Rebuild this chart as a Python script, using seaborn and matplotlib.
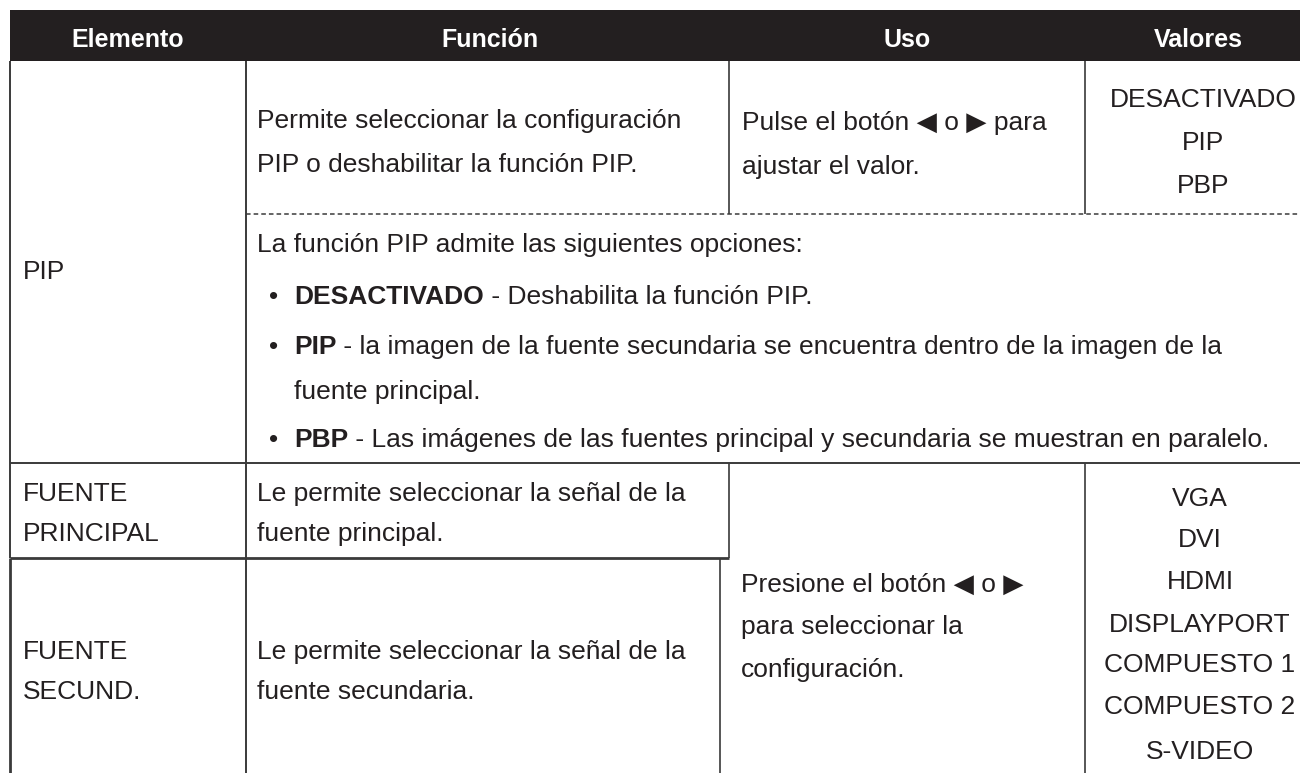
import matplotlib
matplotlib.use("Agg")
import matplotlib.pyplot as plt
import seaborn as sns

# table content
header_labels = ["Elemento", "Función", "Uso", "Valores"]
pip_item = "PIP"
pip_funcion = ["Permite seleccionar la configuración", "PIP o deshabilitar la función PIP."]
pip_uso = ["Pulse el botón ◀ o ▶ para", "ajustar el valor."]
pip_valores = ["DESACTIVADO", "PIP", "PBP"]
pip_intro = "La función PIP admite las siguientes opciones:"
pip_opciones = ["DESACTIVADO", "PIP", "PBP"]
pip_descr = [" - Deshabilita la función PIP.",
             " - la imagen de la fuente secundaria se encuentra dentro de la imagen de la",
             " - Las imágenes de las fuentes principal y secundaria se muestran en paralelo."]
pip_descr_cont = ["", "fuente principal.", ""]
fuente_items = [["FUENTE", "PRINCIPAL"], ["FUENTE", "SECUND."]]
fuente_funcion = [["Le permite seleccionar la señal de la", "fuente principal."],
                  ["Le permite seleccionar la señal de la", "fuente secundaria."]]
fuente_uso = ["Presione el botón ◀ o ▶", "para seleccionar la", "configuración."]
fuente_valores = ["VGA", "DVI", "HDMI", "DISPLAYPORT", "COMPUESTO 1", "COMPUESTO 2", "S-VIDEO"]

sns.set_theme(style="white")
plt.rcParams['font.family'] = ['Liberation Sans', 'DejaVu Sans']

dark = "#231f20"
lc = "#3a3a3a"
fs = 19

fig = plt.figure(figsize=(13, 7.73), dpi=100)
ax = fig.add_axes([0, 0, 1, 1])
ax.set_xlim(0, 1300)
ax.set_ylim(773, 0)
ax.axis("off")

# header band
ax.fill_between([10, 1300], 10, 61, color=dark, lw=0)
header_x = [128, 490, 907, 1198]
for lab, x in zip(header_labels, header_x):
    ax.text(x, 47, lab, color="white", fontsize=18, fontweight="bold", ha="center", va="baseline")

# grid lines
ax.hlines(463, 10, 1300, color=lc, lw=1.4)
ax.hlines(558, 10, 729, color=lc, lw=2)
ax.hlines(214, 246, 1300, color=lc, lw=1.1, linestyles=(0, (3, 2)))
ax.vlines(10, 61, 558, color=lc, lw=1.4)
ax.vlines(10, 558, 773, color=lc, lw=2)
ax.vlines(246, 61, 773, color=lc, lw=1.4)
ax.vlines(729, 61, 214, color=lc, lw=1.2)
ax.vlines(729, 463, 558, color=lc, lw=1.2)
ax.vlines(720, 558, 773, color=lc, lw=1.2)
ax.vlines(1085, 61, 214, color=lc, lw=1.2)
ax.vlines(1085, 463, 773, color=lc, lw=1.2)

def txt(x, y, s, **kw):
    # y is the text baseline
    return ax.text(x, y, s, color=dark, fontsize=fs, va="baseline", **kw)

# PIP row
txt(23, 279, pip_item)
for s, y in zip(pip_funcion, [128, 172]):
    txt(257, y, s)
for s, y in zip(pip_uso, [130, 174]):
    txt(742, y, s)
for s, y in zip(pip_valores, [107, 150, 193]):
    txt(1203, y, s, ha="center")

txt(257, 252, pip_intro)
renderer = fig.canvas.get_renderer()
inv = ax.transData.inverted()
for bold, rest, cont, y in zip(pip_opciones, pip_descr, pip_descr_cont, [304, 354, 447]):
    txt(269, y, "•")
    b = txt(294, y, bold, fontweight="bold")
    x_end = inv.transform(b.get_window_extent(renderer))[1][0]
    txt(x_end, y, rest)
    if cont:
        txt(294, y + 45, cont)

# FUENTE rows
for item, func, ys in zip(fuente_items, fuente_funcion, [[501, 541], [659, 699]]):
    for s, y in zip(item, ys):
        txt(23, y, s)
    for s, y in zip(func, ys):
        txt(257, y, s)
for s, y in zip(fuente_uso, [592, 634, 677]):
    txt(741, y, s)
for s, y in zip(fuente_valores, [506, 547, 589, 632, 672, 714, 759]):
    txt(1200, y, s, ha="center")

fig.savefig("out.png", dpi=100, facecolor="white")
